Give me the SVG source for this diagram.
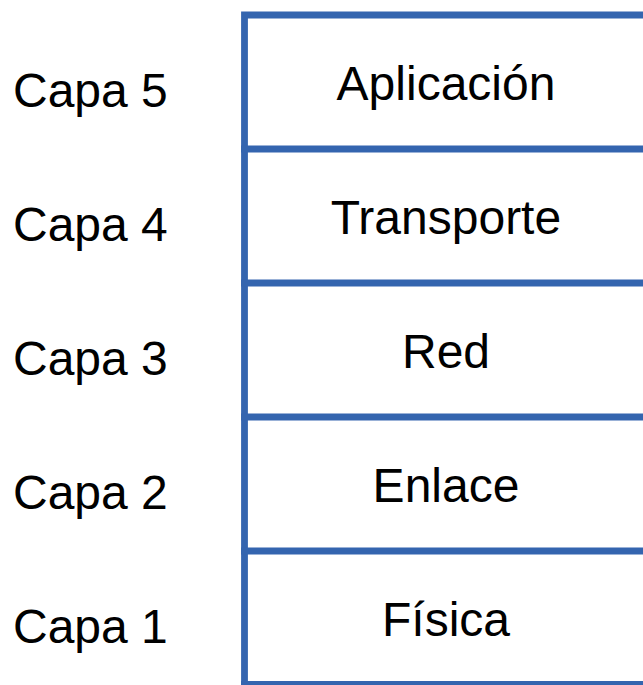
<svg xmlns="http://www.w3.org/2000/svg" width="643" height="685" viewBox="0 0 643 685">
<style>
.ln{stroke:#3465af;stroke-width:6.8;fill:none;stroke-linecap:square}
.t{font-family:"Liberation Sans",Arial,sans-serif;font-size:48px;fill:#000}
.m{text-anchor:middle}
</style>
<rect width="643" height="685" fill="#fff"/>
<g id="connectors">
<path class="ln" d="M244.5 685 V15 H650"/>
<path class="ln" d="M244.5 149 H650 M244.5 283 H650 M244.5 417 H650 M244.5 551 H650 M244.5 684.5 H650"/>
</g>
<g id="layer5"><text class="t" x="13" y="107">Capa 5</text><text class="t m" x="446" y="100">Aplicación</text></g>
<g id="layer4"><text class="t" x="13" y="241">Capa 4</text><text class="t m" x="446" y="234">Transporte</text></g>
<g id="layer3"><text class="t" x="13" y="375">Capa 3</text><text class="t m" x="446" y="368">Red</text></g>
<g id="layer2"><text class="t" x="13" y="509">Capa 2</text><text class="t m" x="446" y="502">Enlace</text></g>
<g id="layer1"><text class="t" x="13" y="643">Capa 1</text><text class="t m" x="446" y="636">Física</text></g>
</svg>
